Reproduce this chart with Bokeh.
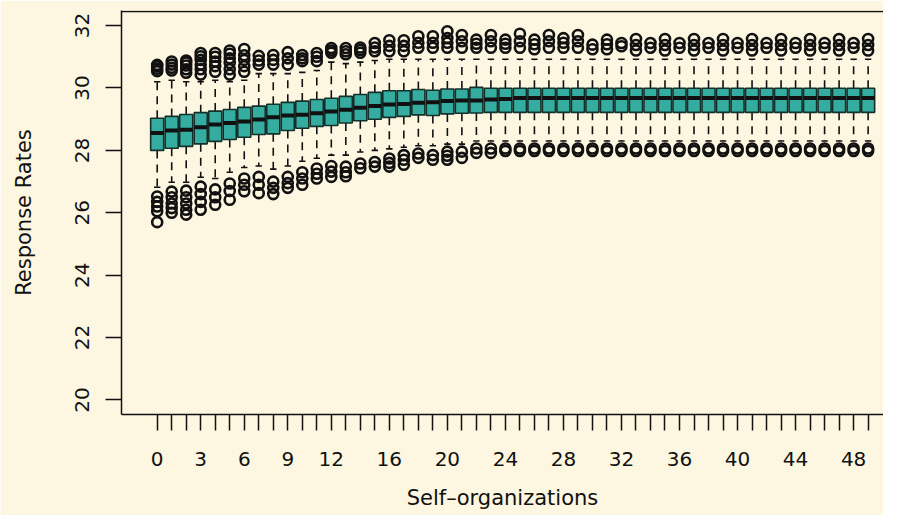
from bokeh.plotting import figure
from bokeh.models import Range1d, FixedTicker, Span
from bokeh.embed import file_html
from bokeh.resources import INLINE

# ---- data ----
groups = list(range(50))
q1 = [28.00, 28.07, 28.13, 28.21, 28.29, 28.35, 28.42, 28.51, 28.53, 28.64,
      28.71, 28.77, 28.80, 28.88, 28.95, 29.00, 29.06, 29.09, 29.14, 29.12,
      29.17, 29.19, 29.20, 29.22] + [29.22] * 26
med = [28.56, 28.64, 28.66, 28.74, 28.83, 28.88, 28.93, 28.99, 29.06, 29.12,
       29.14, 29.19, 29.25, 29.30, 29.37, 29.42, 29.47, 29.49, 29.53, 29.54,
       29.58, 29.60, 29.60, 29.63, 29.65] + [29.68] * 25
q3 = [29.03, 29.09, 29.15, 29.21, 29.26, 29.31, 29.38, 29.42, 29.48, 29.54,
      29.58, 29.63, 29.67, 29.73, 29.79, 29.86, 29.91, 29.91, 29.95, 29.93,
      29.97, 29.97, 30.02, 29.99] + [29.99] * 26
upper_whisker = [30.20, 30.25, 30.20, 30.20, 30.25, 30.20, 30.25, 30.46, 30.46, 30.46,
                 30.50, 30.56, 30.83, 30.78, 30.83, 30.88] + [30.92] * 34
lower_whisker = [26.82, 26.98, 26.98, 27.14, 27.10, 27.30, 27.45, 27.50, 27.40, 27.50,
                 27.65, 27.75, 27.85, 27.85, 27.95, 28.00, 28.05, 28.10, 28.15, 28.15,
                 28.20, 28.20] + [28.30] * 28
upper_outliers = [
    [30.54, 30.62, 30.70, 30.74],
    [30.56, 30.65, 30.75, 30.85],
    [30.49, 30.60, 30.72, 30.82, 30.88],
    [30.43, 30.60, 30.75, 30.90, 31.02, 31.12],
    [30.52, 30.70, 30.85, 31.00, 31.12],
    [30.43, 30.60, 30.80, 30.95, 31.10, 31.20],
    [30.52, 30.70, 30.90, 31.05, 31.25],
    [30.75, 30.88, 31.03],
    [30.75, 30.90, 31.06],
    [30.75, 30.95, 31.15],
    [30.86, 30.95, 31.06],
    [30.86, 31.00, 31.12],
    [31.13, 31.20, 31.28],
    [31.08, 31.18, 31.28],
    [31.13, 31.22, 31.30],
    [31.18, 31.30, 31.44],
    [31.18, 31.35, 31.53],
    [31.18, 31.35, 31.53],
    [31.29, 31.45, 31.66],
    [31.29, 31.45, 31.66],
    [31.29, 31.45, 31.60, 31.82],
    [31.29, 31.50, 31.70],
    [31.29, 31.42, 31.55],
    [31.29, 31.50, 31.70],
    [31.29, 31.42, 31.55],
    [31.29, 31.50, 31.74],
    [31.24, 31.40, 31.55],
    [31.29, 31.50, 31.70],
    [31.29, 31.45, 31.60],
    [31.29, 31.50, 31.70],
    [31.24, 31.39],
    [31.24, 31.40, 31.55],
    [31.34, 31.44],
    [31.20, 31.38, 31.57],
    [31.29, 31.44],
    [31.20, 31.38, 31.57],
    [31.29, 31.44],
    [31.20, 31.38, 31.57],
    [31.29, 31.44],
    [31.20, 31.38, 31.57],
    [31.29, 31.44],
    [31.20, 31.38, 31.57],
    [31.29, 31.44],
    [31.20, 31.38, 31.57],
    [31.29, 31.44],
    [31.20, 31.38, 31.57],
    [31.29, 31.44],
    [31.20, 31.38, 31.57],
    [31.29, 31.44],
    [31.20, 31.38, 31.57],
]
lower_outliers = [
    [26.52, 26.35, 26.20, 26.05, 25.70],
    [26.68, 26.50, 26.30, 26.15, 26.00],
    [26.71, 26.50, 26.30, 26.10, 25.94],
    [26.84, 26.60, 26.35, 26.10],
    [26.75, 26.50, 26.26],
    [26.94, 26.70, 26.42],
    [27.10, 26.90, 26.69],
    [27.15, 26.90, 26.63],
    [27.00, 26.80, 26.60],
    [27.15, 26.95, 26.80],
    [27.30, 27.10, 26.90],
    [27.42, 27.25, 27.10],
    [27.50, 27.32, 27.15],
    [27.48, 27.30, 27.17],
    [27.58, 27.43],
    [27.63, 27.48],
    [27.74, 27.60, 27.48],
    [27.85, 27.70, 27.54],
    [27.90, 27.76],
    [27.85, 27.70],
    [27.96, 27.83, 27.70],
    [27.96, 27.76],
    [28.06, 27.92],
    [28.06, 27.92],
] + [[28.06, 27.98]] * 26
tick_labels = {0: "0", 3: "3", 6: "6", 9: "9", 12: "12", 16: "16", 20: "20", 24: "24",
               28: "28", 32: "32", 36: "36", 40: "40", 44: "44", 48: "48"}
y_ticks = [20, 22, 24, 26, 28, 30, 32]
x_title = "Self\u2013organizations"
y_title = "Response Rates"

# ---- styling ----
BG = "#FDF6E0"
TEAL = "#35ACA0"
INK = "#111111"
FONT = "DejaVu Sans"

p = figure(width=883, height=515, output_backend="svg", toolbar_location=None,
           x_range=Range1d(-2.46, 50.06), y_range=Range1d(19.535, 32.484),
           min_border_left=121, min_border_right=0, min_border_top=10,
           min_border_bottom=101)
p.background_fill_color = BG
p.border_fill_color = BG
p.outline_line_color = None
p.grid.visible = False

# whiskers (dashed)
p.segment(x0=groups, y0=q3, x1=groups, y1=upper_whisker, line_color=INK,
          line_width=1.6, line_dash="8 6")
p.segment(x0=groups, y0=q1, x1=groups, y1=lower_whisker, line_color=INK,
          line_width=1.6, line_dash="8 6")
# staples
hw = 0.22
p.segment(x0=[g - hw for g in groups], y0=upper_whisker, x1=[g + hw for g in groups],
          y1=upper_whisker, line_color=INK, line_width=1.6)
p.segment(x0=[g - hw for g in groups], y0=lower_whisker, x1=[g + hw for g in groups],
          y1=lower_whisker, line_color=INK, line_width=1.6)
# boxes
p.vbar(x=groups, width=0.9, bottom=q1, top=q3, fill_color=TEAL, line_color="#14302b",
       line_width=1.6)
# medians
bw = 0.45
p.segment(x0=[g - bw for g in groups], y0=med, x1=[g + bw for g in groups], y1=med,
          line_color=INK, line_width=4)
# outliers
ox, oy = [], []
for g, vals in zip(groups, upper_outliers):
    ox += [g] * len(vals)
    oy += vals
for g, vals in zip(groups, lower_outliers):
    ox += [g] * len(vals)
    oy += vals
p.scatter(x=ox, y=oy, marker="circle", size=10, fill_color=None, line_color=INK,
          line_width=2.6)

# top frame line
p.add_layout(Span(location=32.452, dimension="width", line_color=INK, line_width=1.5))

# axes
xa = p.xaxis[0]
xa.ticker = FixedTicker(ticks=groups)
xa.major_label_overrides = {g: tick_labels.get(g, "") for g in groups}
xa.major_tick_out = 16
xa.major_tick_in = 0
xa.minor_tick_line_color = None
xa.axis_line_color = INK
xa.axis_line_width = 1.5
xa.major_tick_line_color = INK
xa.major_tick_line_width = 1.5
xa.major_label_standoff = 21
xa.major_label_text_font = FONT
xa.major_label_text_font_size = "20px"
xa.major_label_text_color = INK
xa.axis_label = x_title
xa.axis_label_text_font = FONT
xa.axis_label_text_font_size = "21px"
xa.axis_label_text_font_style = "normal"
xa.axis_label_text_color = INK
xa.axis_label_standoff = 17

ya = p.yaxis[0]
ya.ticker = FixedTicker(ticks=y_ticks)
ya.major_tick_out = 16
ya.major_tick_in = 0
ya.minor_tick_line_color = None
ya.axis_line_color = INK
ya.axis_line_width = 1.5
ya.major_tick_line_color = INK
ya.major_tick_line_width = 1.5
ya.major_label_orientation = "vertical"
ya.major_label_standoff = 16
ya.major_label_text_font = FONT
ya.major_label_text_font_size = "20px"
ya.major_label_text_color = INK
ya.axis_label = y_title
ya.axis_label_text_font = FONT
ya.axis_label_text_font_size = "21px"
ya.axis_label_text_font_style = "normal"
ya.axis_label_text_color = INK
ya.axis_label_standoff = 37

open("out.html", "w").write(file_html(p, INLINE))
